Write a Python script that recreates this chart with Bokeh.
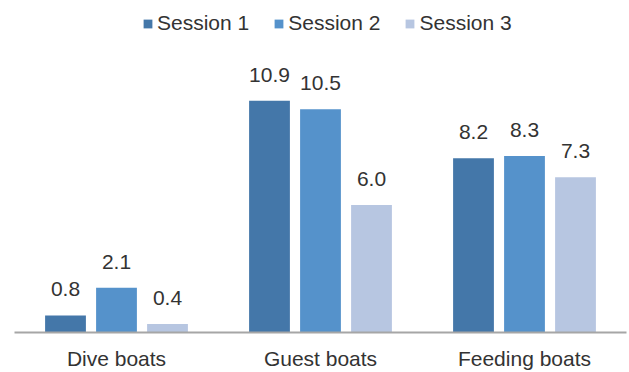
from bokeh.plotting import figure
from bokeh.models import ColumnDataSource, Legend, LegendItem, FactorRange, Range1d
from bokeh.transform import dodge
from bokeh.core.properties import value
from bokeh.embed import file_html
from bokeh.resources import INLINE

categories = ["Dive boats", "Guest boats", "Feeding boats"]
series = ["Session 1", "Session 2", "Session 3"]
session1 = [0.8, 10.9, 8.2]
session2 = [2.1, 10.5, 8.3]
session3 = [0.4, 6.0, 7.3]
colors = ["#4477A9", "#5592CB", "#B7C6E1"]

src = ColumnDataSource(data=dict(
    cat=categories,
    s1=session1, s2=session2, s3=session3,
    l1=[f"{v:.1f}" for v in session1],
    l2=[f"{v:.1f}" for v in session2],
    l3=[f"{v:.1f}" for v in session3],
))

FONT = "Liberation Sans"
FS = "21px"
TXT = "#333333"

p = figure(width=629, height=372, x_range=FactorRange(*categories, range_padding=0),
           y_range=Range1d(0, 15.62), output_backend="svg", toolbar_location=None,
           min_border_left=14, min_border_right=3, min_border_top=0, min_border_bottom=40)
p.outline_line_color = None
p.grid.visible = False
p.yaxis.visible = False

offsets = [-0.25, 0.0, 0.25]
renderers = []
for i, (col, lab) in enumerate(zip(["s1", "s2", "s3"], ["l1", "l2", "l3"])):
    r = p.vbar(x=dodge("cat", offsets[i], range=p.x_range), top=col, bottom=0, width=0.2,
               source=src, fill_color=colors[i], line_color=None)
    renderers.append(r)
    p.text(x=dodge("cat", offsets[i], range=p.x_range), y=col, text=lab, source=src,
           text_align="center", text_baseline="alphabetic", y_offset=-26,
           text_font=value(FONT), text_font_size=FS, text_color=TXT)

xa = p.xaxis[0]
xa.axis_label = None
xa.axis_label_standoff = 0
xa.axis_line_color = "#A6A6A6"
xa.axis_line_width = 2
xa.major_tick_line_color = None
xa.minor_tick_line_color = None
xa.major_tick_out = 0
xa.major_tick_in = 0
xa.minor_tick_out = 0
xa.major_label_text_font = FONT
xa.major_label_text_font_size = FS
xa.major_label_text_color = TXT
xa.major_label_standoff = 14

legend = Legend(items=[LegendItem(label=s, renderers=[r]) for s, r in zip(series, renderers)],
                location=(128, 297), orientation="horizontal",
                glyph_width=11, glyph_height=11, label_standoff=4, spacing=24,
                padding=0, margin=0, border_line_color=None, background_fill_alpha=0,
                label_text_font=FONT, label_text_font_size=FS, label_text_color=TXT,
                label_height=20)
p.add_layout(legend)

open("out.html", "w").write(file_html(p, INLINE))
